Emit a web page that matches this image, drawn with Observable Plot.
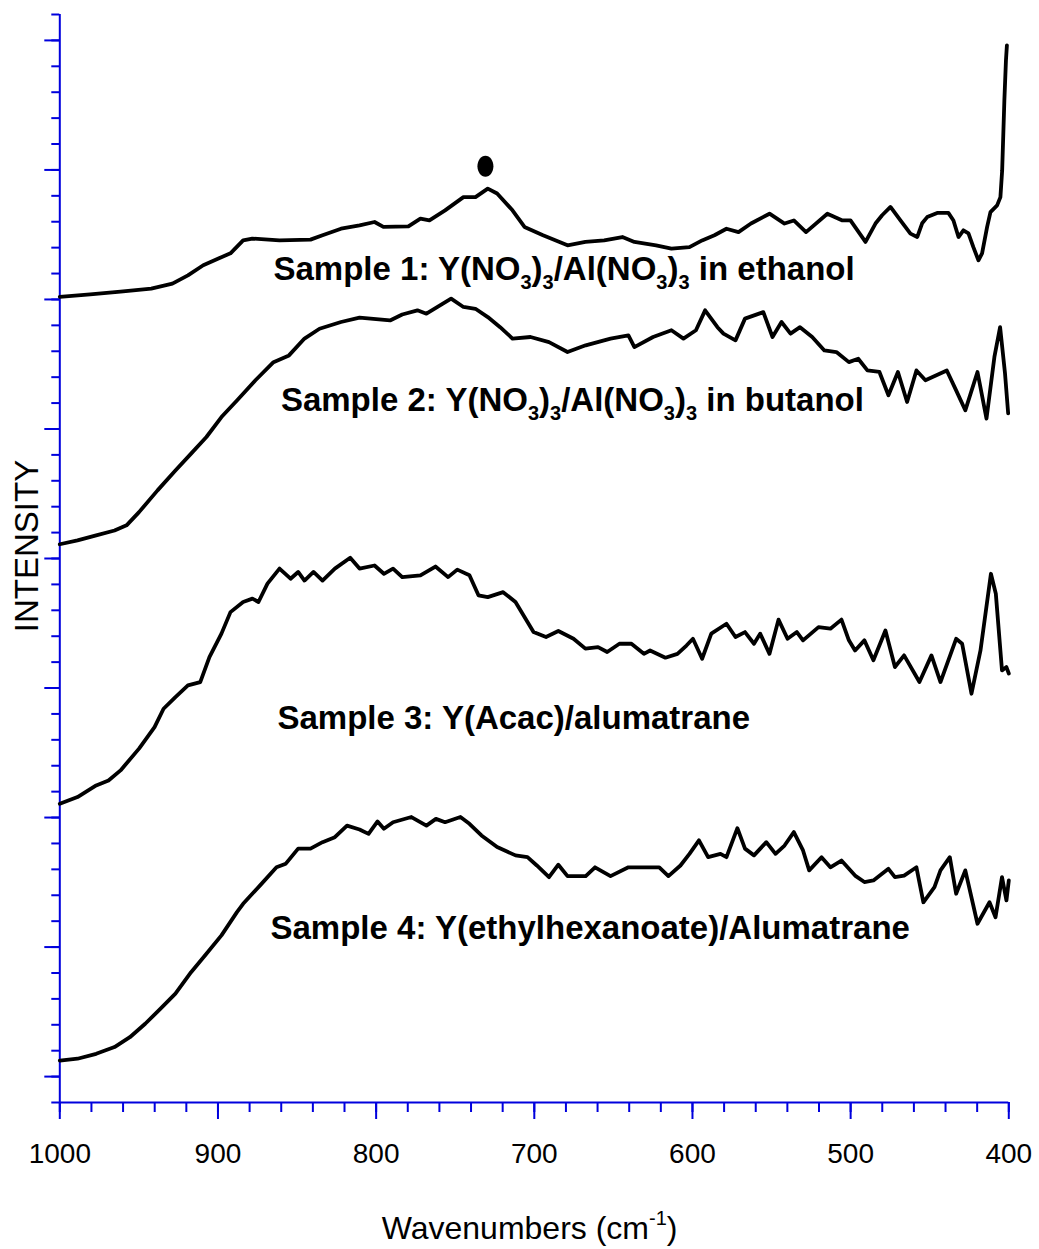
<!DOCTYPE html>
<html><head><meta charset="utf-8">
<script src="https://cdn.jsdelivr.net/npm/d3@7"></script>
<script src="https://cdn.jsdelivr.net/npm/@observablehq/plot@0.6"></script>
<style>body{margin:0;background:#fff}</style>
</head><body><div id="chart"></div>
<script>
// Wavenumbers (cm-1) and intensity (arbitrary units, one unit = one minor tick)
const s1Wave = [1000,980.8,961.6,942.2,928.8,919.0,909.3,899.7,892.1,884.1,878.3,861.1,841.5,833.9,822.2,810.5,801.0,795.4,779.6,772.0,766.3,756.4,744.8,737.2,729.4,723.5,713.8,706.2,694.5,679.0,667.7,655.8,644.3,636.7,623.0,613.3,601.9,593.9,586.1,578.5,570.9,563.0,551.3,541.8,535.9,528.2,514.7,505.2,500.1,490.6,484.3,480.1,474.8,468.5,462.2,457.9,454.8,451.6,445.3,438.2,435.0,431.8,428.7,425.5,422.4,419.2,416.9,413.7,411.6,407.4,405.3,404.2,402.8,401.8,401.2];
const s1Int = [31.1,31.2,31.3,31.42,31.61,31.93,32.32,32.58,32.78,33.28,33.35,33.28,33.31,33.48,33.73,33.86,33.99,33.80,33.82,34.12,34.05,34.44,34.95,34.95,35.28,35.09,34.44,33.80,33.48,33.09,33.22,33.28,33.41,33.22,33.09,32.96,33.02,33.28,33.48,33.73,33.60,33.93,34.31,33.93,34.05,33.60,34.31,34.05,34.05,33.22,33.93,34.25,34.57,34.05,33.54,33.41,33.94,34.18,34.34,34.34,34.05,33.41,33.67,33.55,33.02,32.51,32.78,33.80,34.37,34.63,34.95,35.98,38.69,40.23,40.81];

const s2Wave = [1000,988.8,977.0,965.4,957.8,949.9,938.2,926.9,917.0,907.3,897.8,888.0,876.3,864.9,855.1,845.3,835.8,822.2,810.5,791.2,783.5,773.9,768.2,752.6,744.8,737.2,729.4,721.6,713.8,702.4,690.7,679.0,667.5,651.8,640.5,636.7,624.9,613.3,605.7,597.8,592.0,584.2,580.4,572.8,566.8,555.2,549.4,543.7,538.0,532.0,524.3,516.6,509.0,501.1,495.2,489.4,481.8,476.1,470.1,464.3,458.4,452.7,439.2,433.3,427.5,419.8,414.1,409.1,405.5,402.4,400.4];
const s2Int = [21.55,21.70,21.89,22.08,22.28,22.79,23.63,24.40,25.05,25.69,26.46,27.10,27.88,28.58,28.84,29.49,29.87,30.13,30.30,30.19,30.42,30.58,30.45,31.03,30.71,30.64,30.32,29.93,29.49,29.55,29.35,28.97,29.23,29.49,29.61,29.16,29.55,29.81,29.49,29.81,30.58,29.93,29.68,29.42,30.26,30.51,29.55,30.13,29.68,29.93,29.55,29.03,28.97,28.58,28.71,28.26,28.20,27.30,28.20,27.04,28.26,27.88,28.26,27.49,26.72,28.20,26.40,28.78,29.93,28.15,26.60];

const s3Wave = [1000,988.8,977.0,969.2,961.6,949.9,940.1,934.4,926.9,919.0,911.2,905.4,897.8,892.1,884.1,878.2,874.4,868.7,861.1,854.1,849.3,845.3,839.6,833.9,826.1,816.4,810.5,801.0,795.1,789.3,783.5,772.0,762.5,754.5,748.7,741.0,735.3,729.4,719.7,711.9,706.2,700.5,692.6,684.8,675.2,667.7,659.7,653.9,646.2,638.6,630.7,626.8,617.1,609.5,603.8,599.7,593.9,588.1,578.5,572.8,566.8,561.1,557.2,551.3,545.6,539.9,534.0,530.1,520.3,512.8,505.8,501.1,497.2,491.3,485.6,478.0,472.0,466.2,456.5,448.9,443.2,433.3,429.5,423.6,417.9,411.3,408.2,404.3,401.5,400];
const s3Int = [11.53,11.79,12.24,12.43,12.82,13.66,14.49,15.20,15.65,16.10,16.23,17.19,18.10,18.93,19.32,19.45,19.32,20.03,20.61,20.22,20.48,20.15,20.48,20.15,20.61,21.03,20.61,20.73,20.41,20.61,20.28,20.35,20.69,20.28,20.57,20.35,19.58,19.51,19.70,19.32,18.74,18.16,17.97,18.20,17.90,17.52,17.58,17.39,17.71,17.71,17.32,17.45,17.17,17.32,17.64,17.90,17.13,18.10,18.48,17.97,18.16,17.71,18.10,17.32,18.64,17.90,18.16,17.84,18.35,18.29,18.64,17.84,17.45,17.84,17.07,18.22,16.81,17.26,16.23,17.26,16.23,17.90,17.71,15.78,17.45,20.41,19.64,16.68,16.81,16.56];

const s4Wave = [1000,988.8,977.0,965.4,955.7,946.0,936.3,926.9,917.0,907.3,897.8,888.0,884.1,872.5,863.0,857.1,849.3,841.5,833.9,826.1,818.4,810.5,804.8,799.1,795.1,789.3,777.7,768.2,762.2,756.4,746.7,741.0,733.4,723.5,711.9,704.3,698.4,690.7,684.8,679.0,667.5,661.6,651.8,640.5,621.0,615.2,607.6,601.9,595.9,590.1,582.3,578.5,571.6,566.8,561.1,553.3,547.5,541.8,535.9,530.1,526.2,518.4,512.8,505.8,497.2,491.3,485.6,476.1,472.0,466.2,458.4,454.0,447.0,443.2,437.3,433.3,427.5,419.8,412.2,408.4,404.3,401.5,400];
const s4Int = [1.62,1.69,1.88,2.14,2.52,3.04,3.62,4.20,5.03,5.74,6.45,7.35,7.67,8.44,9.08,9.22,9.80,9.80,10.05,10.24,10.69,10.54,10.37,10.85,10.57,10.82,11.02,10.69,10.95,10.82,11.02,10.76,10.31,9.86,9.54,9.47,9.15,8.70,9.18,8.74,8.74,9.08,8.74,9.08,9.08,8.74,9.15,9.60,10.12,9.47,9.60,9.47,10.59,9.80,9.54,10.05,9.60,9.92,10.44,9.73,8.96,9.47,9.08,9.34,8.76,8.51,8.57,9.02,8.70,8.76,9.08,7.73,8.31,8.96,9.47,8.06,8.96,6.90,7.73,7.15,8.70,7.80,8.57];

const labelText = [
  "Sample 1: Y(NO3)3/Al(NO3)3 in ethanol",
  "Sample 2: Y(NO3)3/Al(NO3)3 in butanol",
  "Sample 3: Y(Acac)/alumatrane",
  "Sample 4: Y(ethylhexanoate)/Alumatrane"
];
const labelWave = [864.9, 860.2, 862.4, 866.8];
const labelInt = [31.74, 26.69, 14.43, 6.32];

const markerWave = [730.9];
const markerInt = [36.14];

const xMajorTicks = [1000, 900, 800, 700, 600, 500, 400];
const xMinorTicks = d3.range(400, 1001, 20);
const yMinorTicks = d3.range(0, 43, 1);
const yMajorTicks = d3.range(1, 42, 5);

const xTitle = "Wavenumbers (cm";
const xTitleSup = "-1";
const yTitle = "INTENSITY";

// build tables
const spectra = [[s1Wave, s1Int], [s2Wave, s2Int], [s3Wave, s3Int], [s4Wave, s4Int]];
const lineData = spectra.flatMap(([W, V], k) => W.map((w, i) => ({w, v: V[i], series: "Sample " + (k + 1)})));
const labels = labelText.map((t, i) => ({t, w: labelWave[i], v: labelInt[i]}));
const markers = markerWave.map((w, i) => ({w, v: markerInt[i]}));

const BLUE = "#0000dd";
const FONT = "'Liberation Sans', Arial, Helvetica, sans-serif";

const ellipse = {
  draw(ctx, size) {
    const r = Math.sqrt(size / Math.PI);
    const rx = 0.8 * r, ry = 1.05 * r, k = 0.5523;
    ctx.moveTo(rx, 0);
    ctx.bezierCurveTo(rx, ry * k, rx * k, ry, 0, ry);
    ctx.bezierCurveTo(-rx * k, ry, -rx, ry * k, -rx, 0);
    ctx.bezierCurveTo(-rx, -ry * k, -rx * k, -ry, 0, -ry);
    ctx.bezierCurveTo(rx * k, -ry, rx, -ry * k, rx, 0);
    ctx.closePath();
  }
};

const plot = Plot.plot({
  width: 1039,
  height: 1249,
  marginLeft: 59.3,
  marginRight: 30.7,
  marginTop: 14,
  marginBottom: 147,
  x: {domain: [1000, 400], label: null},
  y: {domain: [0, 42], label: null},
  style: {fontFamily: FONT, background: "white", color: "black"},
  marks: [
    Plot.axisY({ticks: yMinorTicks, tickSize: 8, stroke: BLUE, strokeWidth: 2, fill: "none", label: null}),
    Plot.axisY({ticks: yMajorTicks, tickSize: 15, stroke: BLUE, strokeWidth: 2, fill: "none", label: null}),
    Plot.axisX({ticks: xMinorTicks, tickSize: 10, stroke: BLUE, strokeWidth: 2, fill: "none", label: null}),
    Plot.axisX({ticks: xMajorTicks, tickSize: 17, stroke: BLUE, strokeWidth: 2, fill: "black", tickPadding: 24, fontSize: 28, tickFormat: d => String(d), label: null}),
    Plot.ruleY([0], {stroke: BLUE, strokeWidth: 2}),
    Plot.ruleX([1000], {y1: 0, y2: 42, stroke: BLUE, strokeWidth: 2}),
    Plot.line(lineData, {x: "w", y: "v", z: "series", stroke: "black", strokeWidth: 3.8, strokeLinejoin: "round"}),
    Plot.dot(markers, {x: "w", y: "v", r: 10, fill: "black", stroke: "none", symbol: ellipse}),
    Plot.text(labels, {x: "w", y: "v", text: "t", textAnchor: "start", lineAnchor: "bottom", fontSize: 33, fontWeight: "bold", fill: "black", fontFamily: FONT})
  ]
});

const svg = d3.select(plot);

// subscripts in chemical formulas
svg.selectAll("text").each(function () {
  const s = this.textContent;
  if (!s.includes("3)3")) return;
  const el = d3.select(this);
  const pieces = s.split("3)3");
  el.text(null);
  pieces.forEach((p, i) => {
    if (i > 0) {
      el.append("tspan").attr("dy", 9).attr("font-size", 20).text("3");
      el.append("tspan").attr("dy", -9).text(")");
      el.append("tspan").attr("dy", 9).attr("font-size", 20).text("3");
      el.append("tspan").attr("dy", -9).text(p);
    } else {
      el.append("tspan").text(p);
    }
  });
});

// axis titles
svg.append("text")
  .attr("transform", "translate(37.5,546) rotate(-90)")
  .attr("text-anchor", "middle")
  .attr("font-family", FONT)
  .attr("font-size", 33)
  .attr("fill", "black")
  .text(yTitle);

const xt = svg.append("text")
  .attr("x", 381.7).attr("y", 1239)
  .attr("text-anchor", "start")
  .attr("font-family", FONT)
  .attr("font-size", 32)
  .attr("fill", "black");
xt.append("tspan").text(xTitle);
xt.append("tspan").attr("dy", -14).attr("font-size", 20).text(xTitleSup);
xt.append("tspan").attr("dy", 14).attr("font-size", 32).text(")");

document.getElementById("chart").append(plot);
</script>
</body></html>
